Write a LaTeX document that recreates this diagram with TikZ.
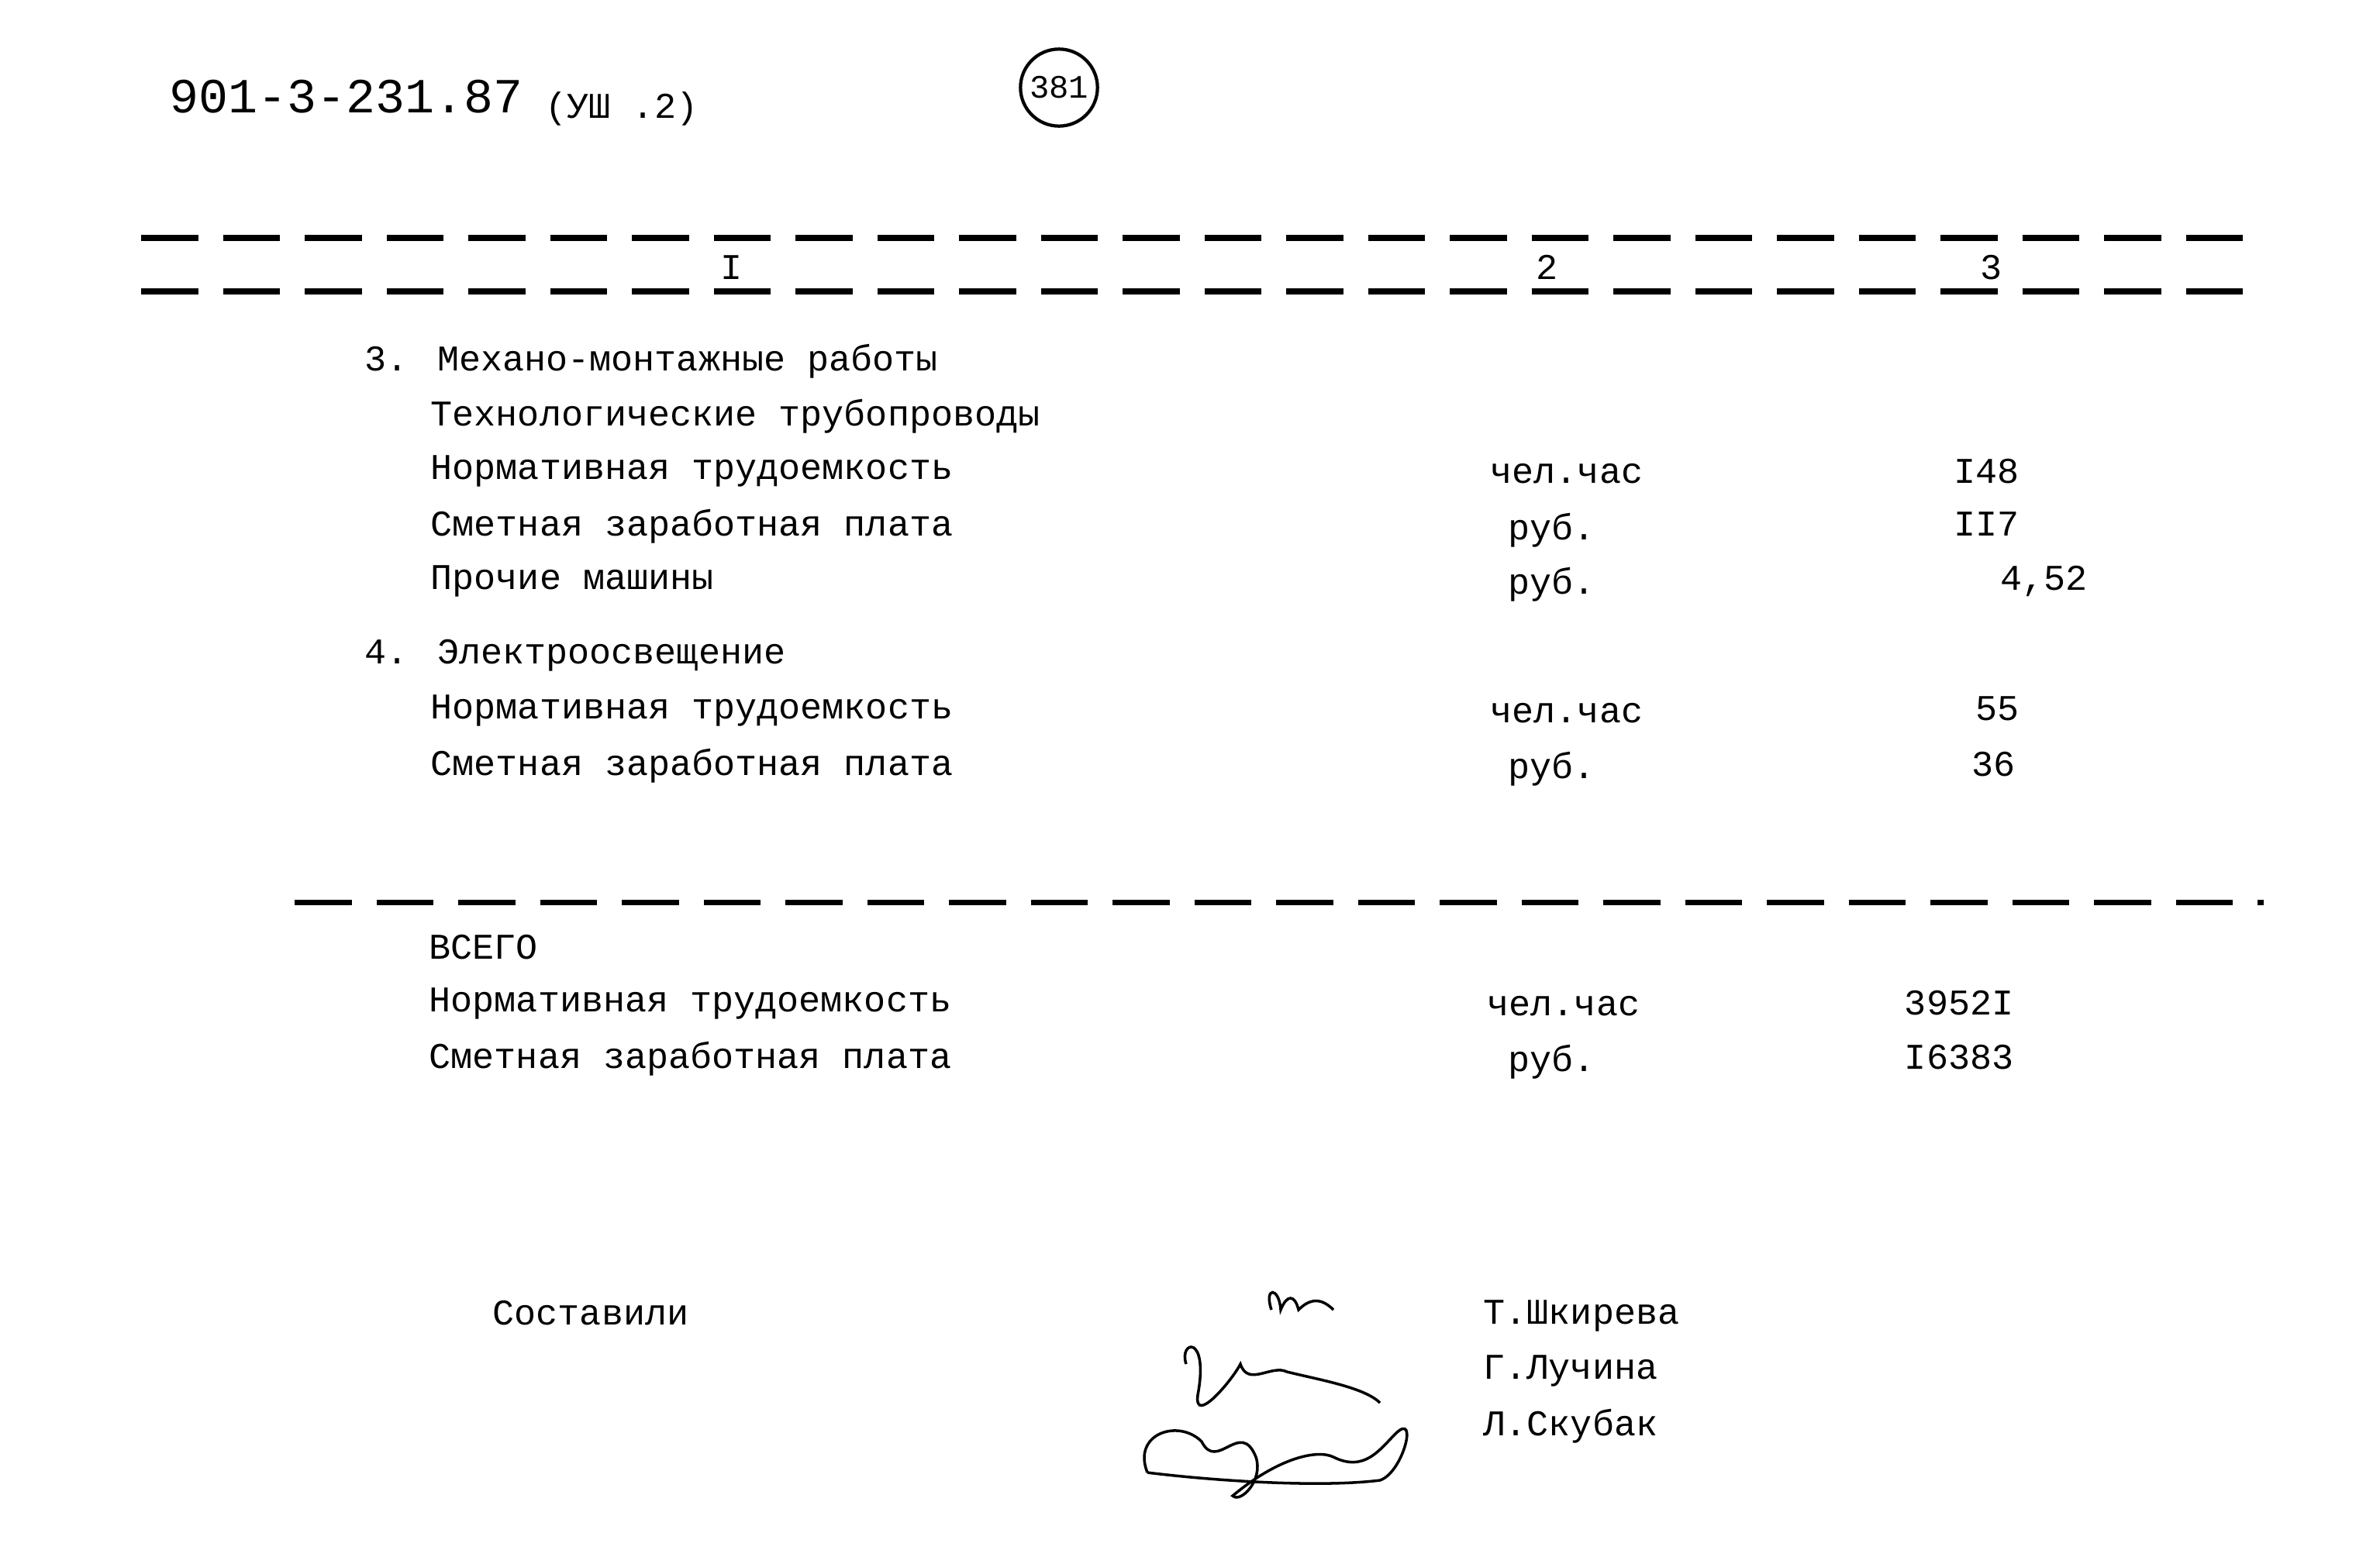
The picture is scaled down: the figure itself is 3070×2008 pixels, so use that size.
\documentclass[tikz,border=0pt]{standalone}
\usepackage{fontspec}
\setmainfont{Liberation Mono}
\begin{document}
\begin{tikzpicture}[x=0.01cm,y=-0.01cm,
  txt/.style={anchor=west,inner sep=0,font=\fontsize{13.3pt}{16pt}\selectfont},
  num/.style={anchor=east,inner sep=0,font=\fontsize{13.3pt}{16pt}\selectfont},
  dl/.style={line width=2pt,dash pattern=on 21pt off 9pt}]
\useasboundingbox (0,0) rectangle (3070,2008);
\node[txt,font=\fontsize{18pt}{20pt}\selectfont] (h1) at (218,125) {901-3-231.87};
\node[txt] (h2) at (703,140) {(УШ .2)};
\node[draw,circle,line width=1.2pt,inner sep=2pt,font=\fontsize{12pt}{14pt}\selectfont] (pg) at (1366,113) {381};
\coordinate (a1) at (182,307); \coordinate (a2) at (2900,307);
\coordinate (b1) at (182,376); \coordinate (b2) at (2900,376);
\coordinate (c1) at (380,1164); \coordinate (c2) at (2920,1164);
\draw[dl] (a1)--(a2); \draw[dl] (b1)--(b2); \draw[dl] (c1)--(c2);
\node[inner sep=0,font=\fontsize{13.3pt}{16pt}\selectfont] (k1) at (944,345) {I};
\node[inner sep=0,font=\fontsize{13.3pt}{16pt}\selectfont] (k2) at (1996,345) {2};
\node[inner sep=0,font=\fontsize{13.3pt}{16pt}\selectfont] (k3) at (2568,345) {3};
\node[txt] (r0) at (470,466) {3. Механо-монтажные работы};
\node[txt] (r1) at (555,537) {Технологические трубопроводы};
\node[txt] (r2) at (555,608) {Нормативная трудоемкость};
\node[txt] (r3) at (555,679) {Сметная заработная плата};
\node[txt] (r4) at (555,750) {Прочие машины};
\node[txt] (u2) at (1922,611) {чел.час};
\node[txt] (u3) at (1945,684) {руб.};
\node[txt] (u4) at (1945,754) {руб.};
\node[num] (v2) at (2605,608) {I48};
\node[num] (v3) at (2605,676) {II7};
\node[num] (v4) at (2693,750) {4,52};
\node[txt] (s0) at (470,846) {4. Электроосвещение};
\node[txt] (s1) at (555,917) {Нормативная трудоемкость};
\node[txt] (s2) at (555,988) {Сметная заработная плата};
\node[txt] (w1) at (1922,920) {чел.час};
\node[txt] (w2) at (1945,992) {руб.};
\node[num] (x1) at (2605,914) {55};
\node[num] (x2) at (2600,986) {36};
\node[txt] (t0) at (553,1222) {ВСЕГО};
\node[txt] (t1) at (553,1295) {Нормативная трудоемкость};
\node[txt] (t2) at (553,1366) {Сметная заработная плата};
\node[txt] (y1) at (1918,1298) {чел.час};
\node[txt] (y2) at (1945,1370) {руб.};
\node[num] (z1) at (2598,1294) {3952I};
\node[num] (z2) at (2598,1364) {I6383};
\node[txt] (sost) at (635,1694) {Составили};
\node[txt] (n1) at (1913,1698) {Т.Шкирева};
\node[txt] (n2) at (1913,1769) {Г.Лучина};
\node[txt] (n3) at (1913,1840) {Л.Скубак};
% signatures
\draw[line width=1pt] (1640,1690) .. controls (1630,1660) and (1650,1660) .. (1652,1690) .. controls (1660,1670) and (1670,1670) .. (1675,1690) .. controls (1685,1680) and (1700,1670) .. (1720,1690);
\draw[line width=1pt] (1530,1760) .. controls (1520,1730) and (1560,1720) .. (1545,1800) .. controls (1540,1840) and (1590,1780) .. (1600,1760) .. controls (1610,1790) and (1640,1760) .. (1660,1770) .. controls (1700,1780) and (1760,1790) .. (1780,1810);
\draw[line width=1pt] (1480,1900) .. controls (1460,1850) and (1520,1830) .. (1550,1860) .. controls (1570,1900) and (1600,1830) .. (1620,1880) .. controls (1630,1910) and (1600,1940) .. (1590,1930) .. controls (1650,1880) and (1700,1870) .. (1720,1880) .. controls (1760,1900) and (1780,1870) .. (1800,1850) .. controls (1830,1820) and (1810,1900) .. (1780,1910) .. controls (1700,1920) and (1560,1910) .. (1480,1900);
\end{tikzpicture}
\end{document}
